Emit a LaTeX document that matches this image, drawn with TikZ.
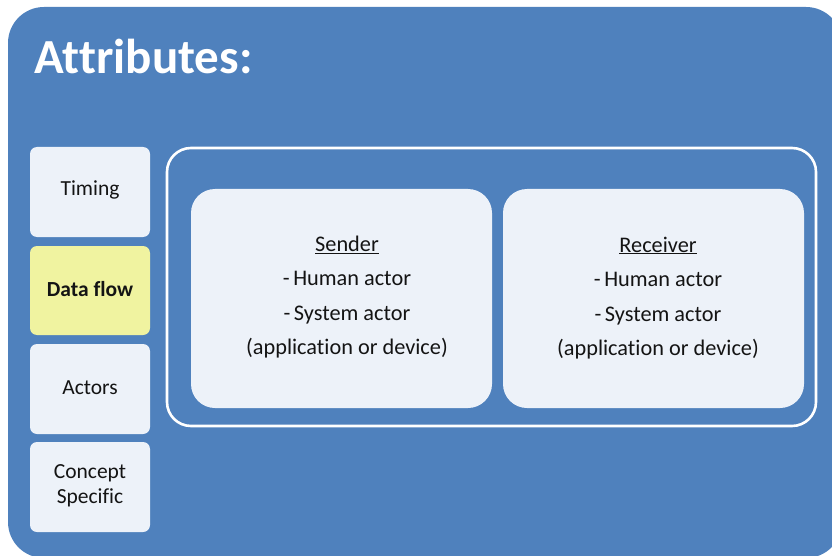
\documentclass[tikz,border=0pt]{standalone}
\usepackage{fontspec}
\setmainfont{Carlito}[Ligatures=NoCommon, RawFeature={-liga;-calt;-clig}]
\definecolor{bgblue}{RGB}{79,129,189}
\definecolor{lightbox}{RGB}{237,242,249}
\definecolor{yellowbox}{RGB}{240,243,160}
\definecolor{txt}{RGB}{20,20,20}
\newcommand{\dashitem}[1]{-\kern3.5pt#1}
\begin{document}
\begin{tikzpicture}[x=1pt,y=-1pt,
  sidebox/.style={fill=lightbox, rounded corners=7pt, text=txt, align=center,
    font=\fontsize{21.5}{25}\selectfont},
  actorbox/.style={fill=lightbox, rounded corners=24pt},
  actortext/.style={text=txt, align=center, font=\fontsize{22.3}{34.5}\selectfont}]
\useasboundingbox (0,0) rectangle (832,556);
\clip (0,0) rectangle (832,556);
% background panel
\fill[bgblue, rounded corners=36pt] (8,7) rectangle (842,558);
\node[anchor=base west, text=white, font=\fontsize{49}{56}\bfseries\selectfont, inner sep=0pt] (title) at (34,74) {At\kern0pt tributes:};
% side boxes
\fill[sidebox] (30,147) rectangle (150,237);
\node[sidebox, fill=none] (timing) at (90,190) {Timing};
\fill[sidebox, fill=yellowbox] (30,246) rectangle (150,335);
\node[sidebox, fill=none, font=\fontsize{21.5}{25}\bfseries\selectfont] (dataflow) at (90,289) {Data flow};
\fill[sidebox] (30,344) rectangle (150,434);
\node[sidebox, fill=none] (actors) at (90,388) {Actors};
\fill[sidebox] (30,442) rectangle (150,532);
\node[sidebox, fill=none] (concept) at (90,486) {Concept\\Specific};
% outlined container
\draw[white, line width=2.6pt, rounded corners=24pt] (167,148) rectangle (816,426);
% sender / receiver
\fill[actorbox] (191,189) rectangle (492,408);
\node[actortext] (sender) at (347,297) {\underline{Sender}\\\dashitem{Human actor}\\\dashitem{System actor}\\(application or device)};
\fill[actorbox] (503,189) rectangle (804,408);
\node[actortext] (receiver) at (658,298) {\underline{Receiver}\\\dashitem{Human actor}\\\dashitem{System actor}\\(application or device)};
\end{tikzpicture}
\end{document}
